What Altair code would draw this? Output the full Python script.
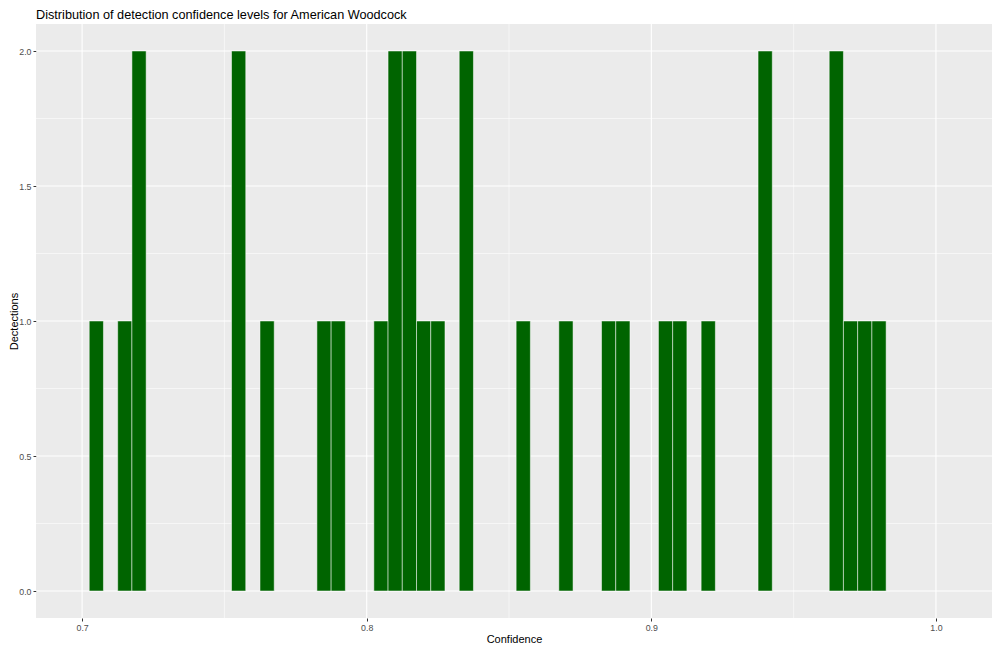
import altair as alt
import pandas as pd

# Histogram bins (binwidth 0.005), bin centers and counts
bin_centers = [0.705, 0.715, 0.72, 0.755, 0.765, 0.785, 0.79, 0.805, 0.81, 0.815,
               0.82, 0.825, 0.835, 0.855, 0.87, 0.885, 0.89, 0.905, 0.91, 0.92,
               0.94, 0.965, 0.97, 0.975, 0.98]
counts = [1, 1, 2, 2, 1, 1, 1, 1, 2, 2,
          1, 1, 2, 1, 1, 1, 1, 1, 1, 1,
          2, 2, 1, 1, 1]
binwidth = 0.005

x_major = [0.7, 0.8, 0.9, 1.0]
x_minor = [0.75, 0.85, 0.95]
y_major = [0.0, 0.5, 1.0, 1.5, 2.0]
y_minor = [0.25, 0.75, 1.25, 1.75]

df = pd.DataFrame({
    "x0": [c - binwidth / 2 for c in bin_centers],
    "x1": [c + binwidth / 2 for c in bin_centers],
    "count": counts,
})

xdom = [0.6838, 1.0197]
ydom = [-0.1, 2.1]
FONT = "Liberation Sans"

xs = alt.Scale(domain=xdom, nice=False, zero=False)
ys = alt.Scale(domain=ydom, nice=False, zero=False)

x_axis = alt.Axis(values=x_major, format=".1f", title="Confidence",
                  grid=False, domain=False, tickColor="#333333",
                  tickSize=3, labelPadding=2, labelFontSize=8.8,
                  labelColor="#4D4D4D", labelFont=FONT,
                  titleFont=FONT, titleFontSize=11, titleFontWeight="normal",
                  titleColor="black", titleBaseline="alphabetic", titleY=24)
y_axis = alt.Axis(values=y_major, format=".1f", title="Dectections",
                  grid=False, domain=False, tickColor="#333333",
                  tickSize=3, labelPadding=2, labelFontSize=8.8,
                  labelColor="#4D4D4D", labelFont=FONT,
                  titleFont=FONT, titleFontSize=11, titleFontWeight="normal",
                  titleColor="black", titleX=-17, titleY=297,
                  titleAngle=-90, titleAlign="center", titleBaseline="bottom")

minor_x = alt.Chart(pd.DataFrame({"v": x_minor})).mark_rule(
    color="white", strokeWidth=0.55
).encode(x=alt.X("v:Q", scale=xs, axis=x_axis, title="Confidence"))
minor_y = alt.Chart(pd.DataFrame({"v": y_minor})).mark_rule(
    color="white", strokeWidth=0.55
).encode(y=alt.Y("v:Q", scale=ys, axis=y_axis, title="Dectections"))
major_x = alt.Chart(pd.DataFrame({"v": x_major})).mark_rule(
    color="white", strokeWidth=1.1
).encode(x=alt.X("v:Q", scale=xs, axis=x_axis, title="Confidence"))
major_y = alt.Chart(pd.DataFrame({"v": y_major})).mark_rule(
    color="white", strokeWidth=1.1
).encode(y=alt.Y("v:Q", scale=ys, axis=y_axis, title="Dectections"))

bars = alt.Chart(df).mark_rect(
    color="#006400", stroke="white", strokeWidth=0.5
).encode(
    x=alt.X("x0:Q", scale=xs, axis=x_axis, title="Confidence"),
    x2="x1:Q",
    y=alt.Y("count:Q", scale=ys, axis=y_axis, title="Dectections"),
    y2=alt.Y2(datum=0),
)

chart = alt.layer(minor_x, minor_y, major_x, major_y, bars).properties(
    width=956, height=594,
    background="white",
    padding={"left": 28, "top": 16, "right": 0, "bottom": 25},
    autosize=alt.AutoSizeParams(type="none"),
    title=alt.TitleParams(
        "Distribution of detection confidence levels for American Woodcock",
        anchor="start", frame="group", font=FONT, fontSize=12.7,
        fontWeight="normal", color="black", offset=2,
    ),
).configure_view(fill="#EBEBEB", stroke=None)

chart.save("out.html", embed_options={"renderer": "svg", "actions": False})
